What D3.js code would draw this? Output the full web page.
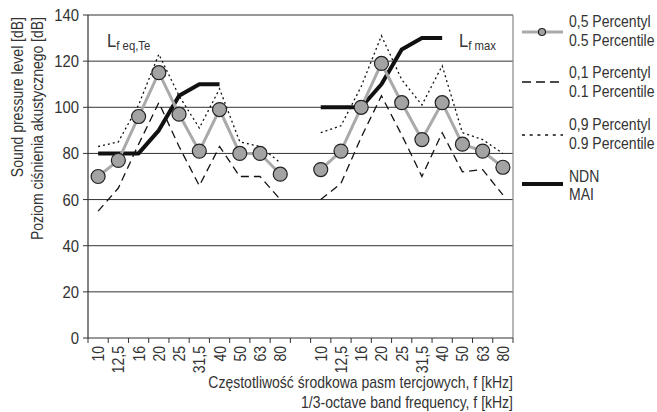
<!DOCTYPE html>
<html>
<head>
<meta charset="utf-8">
<script src="https://cdn.jsdelivr.net/npm/d3@7.9.0/dist/d3.min.js"></script>
<style>
  body { margin: 0; background: #fff; }
  svg text { font-family: 'Liberation Sans', Arial, sans-serif; fill: #333; }
</style>
</head>
<body>
<svg id="chart" width="657" height="412"></svg>
<script>
// frequency bands (kHz), same for both groups
const freqs = ['10', '12,5', '16', '20', '25', '31,5', '40', '50', '63', '80'];
const yTicks = [0, 20, 40, 60, 80, 100, 120, 140];

// L f eq,Te group
const p50Eq = [70, 77, 96, 115, 97, 81, 99, 80, 80, 71];
const p10Eq = [55, 65, 84, 102, 83, 66, 83, 70, 70, 60];
const p90Eq = [83, 85, 101, 123, 105, 91, 108, 85, 83, 76];
const ndnEq = [80, 80, 80, 90, 105, 110, 110];

// L f max group
const p50Max = [73, 81, 100, 119, 102, 86, 102, 84, 81, 74];
const p10Max = [60, 67, 87, 105, 88, 70, 89, 72, 73, 62];
const p90Max = [89, 92, 109, 131, 112, 101, 118, 89, 86, 80];
const ndnMax = [100, 100, 100, 110, 125, 130, 130];

const margin = { top: 15, right: 144, bottom: 74, left: 88 };
const width = 657 - margin.left - margin.right;
const height = 412 - margin.top - margin.bottom;
const SX = 0.875; // narrow the font a bit, the original uses a condensed face

const svg = d3.select('#chart');
const g = svg.append('g').attr('transform', `translate(${margin.left},${margin.top})`);

// text helper: position + optional rotation, then horizontal squeeze
function label(parent, x, y, txt, size, anchor = 'start', rot = 0) {
  return parent.append('text')
    .attr('transform', `translate(${x},${y})` + (rot ? ` rotate(${rot})` : '') + ` scale(${SX},1)`)
    .attr('text-anchor', anchor)
    .attr('font-size', size)
    .text(txt);
}

// 10 bands, one empty band, 10 bands
const keys = [...freqs.map((f, i) => 'a' + i), 'gap', ...freqs.map((f, i) => 'b' + i)];
const x = d3.scaleBand().domain(keys).range([0, width]).paddingInner(0).paddingOuter(0);
const y = d3.scaleLinear().domain([0, 140]).range([height, 0]);
const cx = k => x(k) + x.bandwidth() / 2;

// grid
g.selectAll('.grid')
  .data(yTicks.filter(d => d > 0))
  .join('line')
  .attr('x1', 0).attr('x2', width)
  .attr('y1', d => y(d)).attr('y2', d => y(d))
  .attr('stroke', '#333').attr('stroke-width', 1);

// right border
g.append('line')
  .attr('x1', width).attr('x2', width).attr('y1', 0).attr('y2', height)
  .attr('stroke', '#888').attr('stroke-width', 1.2);

// y axis
g.append('line').attr('x1', 0).attr('x2', 0).attr('y1', 0).attr('y2', height)
  .attr('stroke', '#333').attr('stroke-width', 1.2);
g.selectAll('.ytick')
  .data(yTicks)
  .join('line')
  .attr('x1', -5).attr('x2', 0)
  .attr('y1', d => y(d)).attr('y2', d => y(d))
  .attr('stroke', '#333');
yTicks.forEach(d => label(g, -9, y(d) + 6, d, 17, 'end'));

// x axis: baseline + ticks at band edges
g.append('line')
  .attr('x1', 0).attr('x2', width).attr('y1', height).attr('y2', height)
  .attr('stroke', '#333').attr('stroke-width', 1.2);
const edges = keys.map(k => x(k)).concat([width]);
g.selectAll('.xtick')
  .data(edges)
  .join('line')
  .attr('x1', d => d).attr('x2', d => d)
  .attr('y1', height).attr('y2', height + 5)
  .attr('stroke', '#333');

keys.filter(k => k !== 'gap').forEach(k => {
  label(g, cx(k) + 6, height + 8, freqs[+k.slice(1)], 16, 'end', -90);
});

// axis titles
label(svg, margin.left + width, 388, 'Częstotliwość środkowa pasm tercjowych, f [kHz]', 16, 'end');
label(svg, margin.left + width, 408, '1/3-octave band frequency, f [kHz]', 16, 'end');
label(svg, 23, 17, 'Sound pressure level [dB]', 16, 'end', -90);
label(svg, 43, 17, 'Poziom ciśnienia akustycznego [dB]', 16, 'end', -90);

// series
const line = d3.line().x(d => cx(d.k)).y(d => y(d.v));
const pts = (arr, p) => arr.map((v, i) => ({ k: p + i, v }));

const groups = [
  { p: 'a', p50: p50Eq, p10: p10Eq, p90: p90Eq, ndn: ndnEq },
  { p: 'b', p50: p50Max, p10: p10Max, p90: p90Max, ndn: ndnMax }
];

groups.forEach(s => {
  g.append('path').attr('d', line(pts(s.p10, s.p)))
    .attr('fill', 'none').attr('stroke', '#111').attr('stroke-width', 1.3)
    .attr('stroke-dasharray', '8,5');
  g.append('path').attr('d', line(pts(s.p90, s.p)))
    .attr('fill', 'none').attr('stroke', '#111').attr('stroke-width', 1.3)
    .attr('stroke-dasharray', '2,3');
  g.append('path').attr('d', line(pts(s.ndn, s.p)))
    .attr('fill', 'none').attr('stroke', '#111').attr('stroke-width', 4)
    .attr('stroke-linejoin', 'round');
  g.append('path').attr('d', line(pts(s.p50, s.p)))
    .attr('fill', 'none').attr('stroke', '#aaa').attr('stroke-width', 3);
  g.selectAll('.dot' + s.p)
    .data(pts(s.p50, s.p))
    .join('circle')
    .attr('cx', d => cx(d.k))
    .attr('cy', d => y(d.v))
    .attr('r', 7)
    .attr('fill', '#a3a3a3').attr('stroke', '#222').attr('stroke-width', 1.2);
});

// group labels
const lab1 = g.append('text').attr('transform', `translate(19,32) scale(${SX},1)`).attr('font-size', 19);
lab1.append('tspan').text('L');
lab1.append('tspan').attr('font-size', 13).attr('dy', 3).text('f eq,Te');
const lab2 = g.append('text').attr('transform', `translate(371,32) scale(${SX},1)`).attr('font-size', 19);
lab2.append('tspan').text('L');
lab2.append('tspan').attr('font-size', 13).attr('dy', 3).text('f max');

// legend
const legendItems = [
  { t1: '0,5 Percentyl', t2: '0.5 Percentile', ly: 32, b1: 27, b2: 46, stroke: '#aaa', w: 3, dash: null, dot: true },
  { t1: '0,1 Percentyl', t2: '0.1 Percentile', ly: 82, b1: 78, b2: 97, stroke: '#111', w: 1.5, dash: '9,5' },
  { t1: '0,9 Percentyl', t2: '0.9 Percentile', ly: 135, b1: 130, b2: 149, stroke: '#111', w: 1.5, dash: '3,4.7' },
  { t1: 'NDN', t2: 'MAI', ly: 184, b1: 182, b2: 200, stroke: '#111', w: 4, dash: null }
];
const lg = svg.append('g');
legendItems.forEach(d => {
  lg.append('line')
    .attr('x1', 522).attr('x2', 563).attr('y1', d.ly).attr('y2', d.ly)
    .attr('stroke', d.stroke).attr('stroke-width', d.w)
    .attr('stroke-dasharray', d.dash);
  if (d.dot) {
    lg.append('circle').attr('cx', 542).attr('cy', d.ly).attr('r', 3.5)
      .attr('fill', '#a3a3a3').attr('stroke', '#222').attr('stroke-width', 1.2);
  }
  label(lg, 569, d.b1, d.t1, 16);
  label(lg, 569, d.b2, d.t2, 16);
});
</script>
</body>
</html>
